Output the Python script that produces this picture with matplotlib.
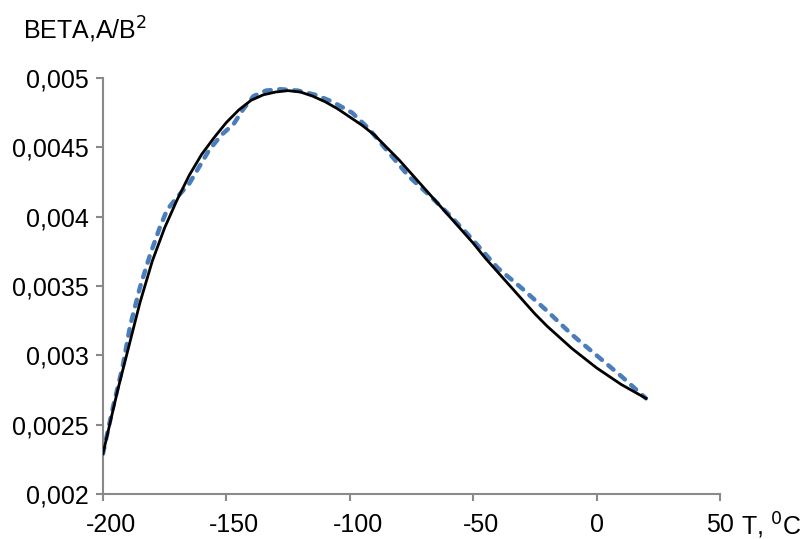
import matplotlib
matplotlib.use("Agg")
import matplotlib.pyplot as plt
from matplotlib.ticker import FixedLocator, FixedFormatter
from matplotlib.transforms import ScaledTranslation

plt.rcParams["font.family"] = ["Liberation Sans", "DejaVu Sans"]

# measured curve (black, solid)
t_meas = [-200, -197, -194, -190, -185, -180, -175, -170, -165, -160, -155,
          -150, -145, -140, -135, -130, -125, -120, -115, -110, -105, -100,
          -95, -90, -85, -80, -75, -70, -65, -60, -55, -50, -45, -40, -35,
          -30, -25, -20, -15, -10, -5, 0, 5, 10, 15, 20]
beta_meas = [0.00229, 0.00252, 0.00275, 0.00303, 0.00338, 0.00368, 0.00392,
             0.00412, 0.00430, 0.00445, 0.00457, 0.00468, 0.00477, 0.00484,
             0.00488, 0.00490, 0.00491, 0.00490, 0.00487, 0.00483, 0.00478,
             0.00472, 0.00466, 0.00459, 0.00450, 0.00441, 0.00431, 0.00421,
             0.00411, 0.00401, 0.00391, 0.00381, 0.00370, 0.00360, 0.00350,
             0.00340, 0.00330, 0.00321, 0.00313, 0.00305, 0.00298, 0.00291,
             0.00285, 0.00279, 0.00274, 0.00269]

# model curve (blue, dashed)
t_model = [-200, -196, -192, -189, -185, -181, -177, -174, -170, -165, -161,
           -157, -152, -147, -143, -139, -134, -128, -121, -114, -107, -99,
           -92, -85, -76, -68, -60, -52, -46, -40, -30, -20, -10, 0, 10, 20]
beta_model = [0.00229, 0.00262, 0.00292, 0.00321, 0.00349, 0.00372, 0.00392,
              0.00405, 0.00414, 0.00424, 0.00436, 0.00448, 0.00459, 0.00467,
              0.00478, 0.00487, 0.00491, 0.00492, 0.00491, 0.00488, 0.00483,
              0.00475, 0.00463, 0.00448, 0.00429, 0.00416, 0.00402, 0.00387,
              0.00375, 0.00363, 0.00348, 0.00332, 0.00315, 0.00300, 0.00285,
              0.00269]

x_ticks = [-200, -150, -100, -50, 0, 50]
x_ticklabels = ["-200", "-150", "-100", "-50", "0", "50"]
y_ticks = [0.002, 0.0025, 0.003, 0.0035, 0.004, 0.0045, 0.005]
y_ticklabels = ["0,002", "0,0025", "0,003", "0,0035", "0,004", "0,0045", "0,005"]

AXIS_GREY = "#898989"
BLUE = "#4a7ebb"

fig = plt.figure(figsize=(8.04, 5.39), dpi=100)
ax = fig.add_axes([0.128, 0.0835, 0.7675, 0.7715])

ax.plot(t_model, beta_model, color=BLUE, linewidth=3.2, dashes=(1.5, 1.9),
        dash_capstyle="round", zorder=2)
ax.plot(t_meas, beta_meas, color="black", linewidth=2.0, zorder=3)

ax.set_xlim(-200, 50)
ax.set_ylim(0.002, 0.005)
ax.xaxis.set_major_locator(FixedLocator(x_ticks))
ax.xaxis.set_major_formatter(FixedFormatter(x_ticklabels))
ax.yaxis.set_major_locator(FixedLocator(y_ticks))
ax.yaxis.set_major_formatter(FixedFormatter(y_ticklabels))

for side in ("top", "right"):
    ax.spines[side].set_visible(False)
for side in ("left", "bottom"):
    ax.spines[side].set_color(AXIS_GREY)
    ax.spines[side].set_linewidth(1.5)
ax.tick_params(axis="both", direction="out", length=5, width=1.5,
               color=AXIS_GREY, labelsize=18)
ax.tick_params(axis="x", pad=9)
ax.tick_params(axis="y", pad=5)

# negative labels sit a little right of their ticks in the original
for lab in ax.get_xticklabels():
    if lab.get_text().startswith("-"):
        lab.set_transform(lab.get_transform() +
                          ScaledTranslation(0.08, 0, fig.dpi_scale_trans))

fig.text(0.028, 0.945, r"BETA,A/B$^2$", fontsize=18, ha="left", va="center")
fig.text(0.922, 0.025, r"T, $^0$C", fontsize=18, ha="left", va="center")

fig.savefig("out.png", dpi=100)
